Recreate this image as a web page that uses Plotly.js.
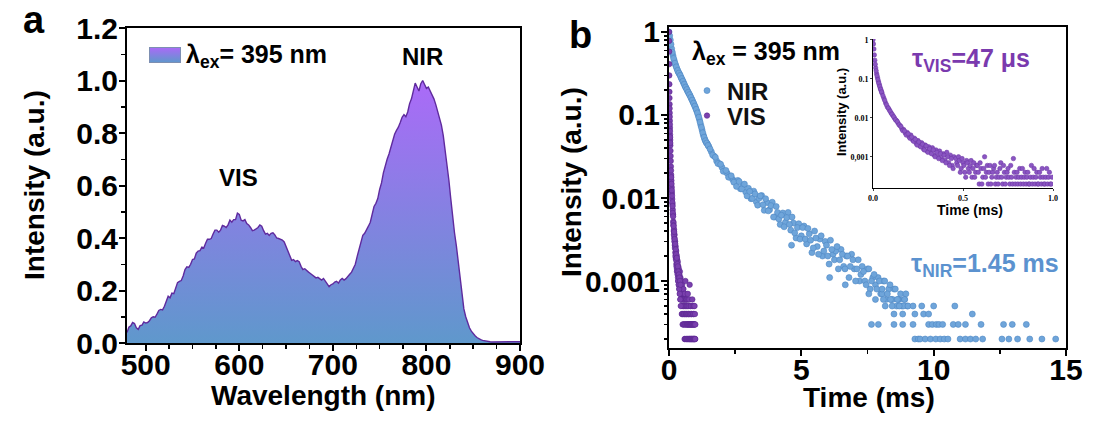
<!DOCTYPE html>
<html><head><meta charset="utf-8">
<script src="https://cdn.plot.ly/plotly-3.0.1.min.js"></script>
<style>html,body{margin:0;padding:0;background:#fff;}#chart{width:1104px;height:427px;}</style>
</head><body><div id="chart"></div>
<script>
// ---------- Panel a: emission spectrum (lambda_ex = 395 nm) ----------
const wavelength = [480,482,484,486,488,490,492,494,496,498,500,502,504,506,508,510,512,514,516,518,520,522,524,526,528,530,532,534,536,538,540,542,544,546,548,550,552,554,556,558,560,562,564,566,568,570,572,574,576,578,580,582,584,586,588,590,592,594,596,598,600,602,604,606,608,610,612,614,616,618,620,622,624,626,628,630,632,634,636,638,640,642,644,646,648,650,652,654,656,658,660,662,664,666,668,670,672,674,676,678,680,682,684,686,688,690,692,694,696,698,700,702,704,706,708,710,712,714,716,718,720,722,724,726,728,730,732,734,736,738,740,742,744,746,748,750,752,754,756,758,760,762,764,766,768,770,772,774,776,778,780,782,784,786,788,790,792,794,796,798,800,802,804,806,808,810,812,814,816,818,820,822,824,826,828,830,832,834,836,838,840,842,844,846,848,850,852,854,856,858,860,862,864,866,868,870,872,874,876,878,880,882,884,886,888,890,892,894,896,898,900];
const emission = [0.040,0.060,0.065,0.078,0.074,0.058,0.052,0.066,0.068,0.080,0.076,0.078,0.085,0.096,0.100,0.098,0.110,0.124,0.128,0.126,0.140,0.162,0.178,0.172,0.190,0.188,0.210,0.230,0.235,0.238,0.255,0.280,0.290,0.288,0.300,0.318,0.320,0.342,0.350,0.352,0.365,0.362,0.380,0.395,0.395,0.398,0.415,0.430,0.430,0.422,0.430,0.448,0.445,0.440,0.450,0.468,0.460,0.470,0.470,0.495,0.490,0.468,0.465,0.470,0.455,0.450,0.440,0.428,0.430,0.436,0.440,0.450,0.445,0.428,0.415,0.418,0.410,0.418,0.420,0.412,0.400,0.398,0.395,0.392,0.385,0.368,0.350,0.338,0.315,0.318,0.310,0.314,0.310,0.292,0.280,0.283,0.275,0.270,0.265,0.258,0.255,0.248,0.250,0.245,0.240,0.246,0.235,0.226,0.215,0.222,0.225,0.232,0.235,0.228,0.240,0.246,0.240,0.245,0.255,0.262,0.270,0.288,0.300,0.330,0.360,0.382,0.410,0.418,0.430,0.445,0.460,0.495,0.520,0.532,0.550,0.585,0.610,0.648,0.680,0.700,0.720,0.748,0.770,0.795,0.810,0.822,0.840,0.860,0.870,0.862,0.880,0.912,0.930,0.955,0.990,0.975,0.960,0.988,1.000,0.985,0.970,0.975,0.960,0.945,0.930,0.908,0.880,0.858,0.830,0.790,0.740,0.690,0.620,0.550,0.480,0.420,0.370,0.310,0.250,0.185,0.130,0.100,0.075,0.058,0.045,0.035,0.028,0.021,0.016,0.013,0.010,0.008,0.007,0.006,0.005,0.004,0.004,0.004,0.005,0.004,0.003,0.004,0.005,0.004,0.004,0.005,0.005,0.004,0.004,0.005,0.005];

// ---------- Panel b: decay curves ----------
const nirT = [0,0.05,0.1,0.15,0.2,0.25,0.3,0.35,0.4,0.45,0.5,0.55,0.6,0.65,0.7,0.75,0.8,0.85,0.9,0.95,1.0,1.05,1.1,1.15,1.2,1.25,1.3,1.35,1.4,1.45,1.5,
  1.6,1.7,1.8,1.9,2.0,2.1,2.2,2.3,2.4,2.5,2.6,2.7,2.8,2.9,3.0,3.1,3.2,3.3,3.4,3.5,3.6,3.7,3.8,3.9,4.0,4.1,4.2,4.3,4.4,4.5,4.6,4.7,4.8,4.9,5.0,
  5.1,5.2,5.3,5.4,5.5,5.6,5.7,5.8,5.9,6.0,6.1,6.2,6.3,6.4,6.5,6.6,6.7,6.8,6.9,7.0,7.1,7.2,7.3,7.4,7.5,7.6,7.7,7.8,7.9,8.0,8.1,8.2,8.3,8.4,8.5,8.6,8.7,8.8,8.9,9.0];
const nirI = [1.0,0.80,0.63,0.52,0.45,0.40,0.36,0.33,0.31,0.285,0.265,0.245,0.225,0.21,0.195,0.182,0.170,0.157,0.145,0.134,0.123,0.112,0.100,0.088,0.076,0.066,0.057,0.051,0.047,0.045,0.042,
  0.036,0.032,0.028,0.026,0.0235,0.021,0.0198,0.018,0.0168,0.0158,0.0163,0.0129,0.0143,0.0118,0.0131,0.0098,0.0121,0.0090,0.0099,0.0107,0.0071,0.0088,0.0072,0.0089,0.0059,0.0067,0.0048,0.0066,0.0051,0.0067,0.0041,0.0050,0.0033,0.0049,0.0035,
  0.0046,0.0028,0.0037,0.0022,0.0040,0.0026,0.0032,0.0020,0.0030,0.0020,0.0031,0.0021,0.0023,0.0014,0.0024,0.0015,0.0020,0.0011,0.0021,0.0014,0.0014,0.0010,0.0015,0.0010,0.0014,0.0008,0.0011,0.0009,0.0011,0.0007,0.0010,0.0006,0.0008,0.0006,0.0008,0.0005,0.0006,0.0005,0.0006,0.0005];
const nir2T = [0.025,0.075,0.125,0.175,0.225,0.275,0.325,0.375,0.425,0.475,0.525,0.575,0.625,0.675,0.725,0.775,0.825,0.875,0.925,0.975,1.025,1.075,1.125,1.175,1.225,1.275,1.325,1.375,1.425,1.475,
  1.55,1.65,1.75,1.85,1.95,2.05,2.15,2.25,2.35,2.45,
  2.55,2.65,2.75,2.85,2.95,3.05,3.15,3.25,3.35,3.45,3.55,3.65,3.75,3.85,3.95,4.05,4.15,4.25,4.35,4.45,4.55,4.65,4.75,4.85,4.95,
  5.05,5.15,5.25,5.35,5.45,5.55,5.65,5.75,5.85,5.95,6.05,6.15,6.25,6.35,6.45,6.55,6.65,6.75,6.85,6.95,
  7.05,7.15,7.25,7.35,7.45,7.55,7.65,7.75,7.85,7.95,8.05,8.15,8.25,8.35,8.45,8.55,8.65,8.75,8.85,8.95,4.63,6.07,6.66];
const nir2I = [0.90,0.71,0.57,0.48,0.42,0.38,0.345,0.32,0.30,0.275,0.255,0.235,0.217,0.203,0.188,0.176,0.163,0.151,0.139,0.128,0.117,0.106,0.094,0.082,0.071,0.061,0.054,0.049,0.046,0.043,
  0.039,0.033,0.031,0.026,0.0255,0.021,0.0215,0.0178,0.0185,0.0155,
  0.0138,0.0158,0.0129,0.0147,0.0106,0.0120,0.0099,0.0112,0.0082,0.0106,0.0083,0.0098,0.0070,0.0081,0.0059,0.0079,0.0056,0.0062,0.0045,0.0058,0.0048,0.0059,0.0038,0.0044,0.0032,
  0.0044,0.0032,0.0043,0.0031,0.0025,0.0033,0.0021,0.0035,0.0023,0.0027,0.0016,0.0024,0.0018,0.0026,0.0018,0.0021,0.0014,0.0020,0.0015,0.0018,
  0.0010,0.0018,0.0012,0.0013,0.0009,0.0014,0.0010,0.0012,0.0008,0.0010,0.0007,0.0010,0.0007,0.0009,0.0006,0.0008,0.0006,0.0007,0.0005,0.0007,0.0027,0.0011,0.0009];
const nirLateT = [7.55,7.65,7.8,7.91,8.05,8.1,8.17,8.37,8.43,8.5,8.5,8.63,8.7,8.83,8.83,8.9,9.03,9.22,9.22,9.29,9.29,9.42,9.49,9.55,9.62,9.68,9.81,9.81,9.88,9.95,10.0,10.08,10.1,10.2,10.25,10.34,10.4,10.54,10.74,10.8,10.93,11.0,11.2,11.2,11.39,11.46,11.59,11.79,11.85,12.58,12.64,12.84,12.97,13.17,13.5,13.63,14.09,14.61];
const nirLateI = [7e-4,3e-4,6e-4,3e-4,8e-4,6e-4,5e-4,6e-4,5e-4,4e-4,3e-4,6e-4,5e-4,4e-4,3e-4,6e-4,5e-4,5e-4,3e-4,4e-4,2e-4,2e-4,2e-4,5e-4,4e-4,2e-4,4e-4,3e-4,2e-4,3e-4,5e-4,2e-4,3e-4,3e-4,2e-4,3e-4,2e-4,2e-4,3e-4,5e-4,3e-4,2e-4,3e-4,2e-4,2e-4,4e-4,2e-4,3e-4,2e-4,2e-4,3e-4,2e-4,3e-4,2e-4,3e-4,2e-4,2e-4,2e-4];

const visT = [0,0.005,0.01,0.015,0.02,0.025,0.03,0.035,0.04,0.045,0.05,0.06,0.07,0.08,0.09,0.10,0.11,0.12,0.13,0.14,0.15,0.16,0.17,0.18,0.19,0.20,0.21,0.22,0.23,0.24,0.25,0.26,0.27,0.28,0.29,0.30,0.31,0.32,0.33,0.34,0.35,0.36,0.37,0.38,0.39,0.40,0.41,0.42,0.43,0.44,0.45,
  0.46,0.465,0.47,0.475,0.48,0.485,0.49,0.495,0.50,0.505,0.51,0.515,0.52,0.525,0.53,0.535,0.54,0.545,0.55,0.555,0.56,0.565,0.57,0.575,0.58,0.585,0.59,0.595,0.60,0.605,0.61,0.615,0.62,0.625,0.63,0.635,0.64,0.645,0.65,0.655,0.66,0.665,0.67,0.675,0.68,0.685,0.69,0.695,0.70,0.705,0.71,0.715,0.72,0.725,0.73,0.735,0.74,0.745,0.75,0.755,0.76,0.765,0.77,0.775,0.78,0.785,0.79,0.795,0.80,0.805,0.81,0.815,0.82,0.825,0.83,0.835,0.84,0.845,0.85,0.855,0.86,0.865,0.87,0.875,0.88,0.885,0.89,0.895,0.90,0.905,0.91,0.915,0.92,0.925,0.93,0.935,0.94,0.945,0.95,0.955,0.96,0.965,0.97,0.975,0.98,0.985,0.99,0.995];
const visI = [1.0,0.58,0.30,0.19,0.135,0.106,0.085,0.070,0.058,0.050,0.043,0.032,0.024,0.019,0.0162,0.0135,0.0115,0.0097,0.0085,0.0072,0.0063,0.0052,0.0050,0.0040,0.0042,0.0033,0.0036,0.0027,0.0030,0.0022,0.0026,0.0019,0.0023,0.0016,0.0020,0.0014,0.0018,0.0013,0.0017,0.0011,0.0015,0.0010,0.0014,0.0009,0.0012,0.0008,0.0013,0.0007,0.0011,0.0006,0.0010,
  9e-4,7e-4,6e-4,10e-4,8e-4,4e-4,5e-4,9e-4,7e-4,6e-4,4e-4,3e-4,8e-4,7e-4,5e-4,4e-4,6e-4,8e-4,3e-4,5e-4,7e-4,3e-4,4e-4,6e-4,6e-4,4e-4,2e-4,7e-4,5e-4,2e-4,3e-4,5e-4,10e-4,3e-4,4e-4,6e-4,2e-4,4e-4,6e-4,2e-4,3e-4,4e-4,5e-4,6e-4,2e-4,3e-4,4e-4,2e-4,3e-4,5e-4,7e-4,3e-4,2e-4,6e-4,4e-4,2e-4,3e-4,4e-4,5e-4,3e-4,2e-4,6e-4,3e-4,2e-4,9e-4,4e-4,2e-4,3e-4,4e-4,2e-4,3e-4,5e-4,2e-4,3e-4,5e-4,2e-4,3e-4,4e-4,2e-4,3e-4,4e-4,2e-4,2e-4,3e-4,6e-4,2e-4,3e-4,5e-4,2e-4,3e-4,4e-4,2e-4,2e-4,4e-4,3e-4,2e-4,5e-4,3e-4,2e-4,2e-4,3e-4,5e-4,2e-4,3e-4,4e-4,2e-4,2e-4,3e-4];
const vis2T = [0.0025,0.0075,0.0125,0.0175,0.0225,0.0275,0.0325,0.0375,0.0425,0.0475,0.055,0.065,0.075,0.085,0.095,0.105,0.115,0.125,0.135,0.145,0.155,0.165,0.175,0.185,0.195,0.205,0.215,0.225,0.235,0.245,0.255,0.265,0.275,0.285,0.295,0.305,0.315,0.325,0.335,0.345,0.355,0.365,0.375,0.385,0.395,0.405,0.415,0.425,0.435,0.445];
const vis2I = [0.78,0.41,0.235,0.16,0.12,0.095,0.077,0.064,0.054,0.046,0.037,0.028,0.0215,0.0178,0.0148,0.0124,0.0106,0.0089,0.0080,0.0066,0.0060,0.0047,0.0046,0.0036,0.0039,0.0030,0.0032,0.0025,0.0028,0.0020,0.0024,0.0018,0.0021,0.0015,0.0019,0.0013,0.0016,0.0012,0.0015,0.0010,0.0013,0.0009,0.0012,0.0008,0.0011,0.0007,0.0010,0.0006,0.0009,0.0005];

// ---------- tick labels ----------
const aXTick0 = 500, aXStep = 100, aYStep = 0.2;
const bYTickVals = [1, 0.1, 0.01, 0.001];
const bYTickText = ['1', '0.1', '0.01', '0.001'];
const insetYTickText = ['1', '0.1', '0.01', '0,001'];
const insetXTickVals = [0, 0.5, 1.0];
const insetXTickText = ['0.0', '0.5', '1.0'];
const logMinor = [2e-4,3e-4,4e-4,5e-4,6e-4,7e-4,8e-4,9e-4,2e-3,3e-3,4e-3,5e-3,6e-3,7e-3,8e-3,9e-3,2e-2,3e-2,4e-2,5e-2,6e-2,7e-2,8e-2,9e-2,0.2,0.3,0.4,0.5,0.6,0.7,0.8,0.9];

// ---------- layout helpers ----------
const W = 1104, H = 427;
const px = v => v / W, py = v => 1 - v / H;
const SANS = 'Liberation Sans, Arial, sans-serif';
const SERIF = 'Liberation Serif, Times New Roman, serif';
const BLUE = '#6fa5da', BLUE_EDGE = '#4f88c4';
const PURPLE = '#7a40ae', PURPLE_EDGE = '#5a2790';

const fontB = (size, color) => ({family: SANS, size: size, weight: 'bold', color: color || '#000'});

const axisBase = () => ({
  showline: true, linecolor: '#000', linewidth: 2, mirror: true,
  ticks: 'outside', ticklen: 6, tickwidth: 2, tickcolor: '#000',
  showgrid: false, zeroline: false, fixedrange: true,
  tickfont: fontB(30)
});

const traces = [
  {x: wavelength, y: emission, type: 'scatter', mode: 'lines', xaxis: 'x', yaxis: 'y',
   line: {color: '#5f2a9e', width: 1.4}, fill: 'tozeroy',
   fillgradient: {type: 'vertical', start: 0, stop: 1.0, colorscale: [[0, '#5f98cc'], [1, '#ab6af8']]},
   showlegend: false, hoverinfo: 'skip'},
  {x: nirT.concat(nir2T, nirLateT), y: nirI.concat(nir2I, nirLateI), type: 'scatter', mode: 'markers', xaxis: 'x2', yaxis: 'y2',
   name: 'NIR', legend: 'legend2',
   marker: {color: BLUE, size: 6, line: {color: BLUE_EDGE, width: 0.6}}},
  {x: visT.concat(vis2T), y: visI.concat(vis2I), type: 'scatter', mode: 'markers', xaxis: 'x2', yaxis: 'y2',
   name: 'VIS', legend: 'legend3',
   marker: {color: PURPLE, size: 5.5, line: {color: PURPLE_EDGE, width: 0.6}}},
  {x: visT.concat(vis2T), y: visI.concat(vis2I), type: 'scatter', mode: 'markers', xaxis: 'x3', yaxis: 'y3',
   showlegend: false,
   marker: {color: '#8a55c2', size: 4.5, line: {color: '#6a34a2', width: 0.5}}}
];

const swatchSvg = "<svg xmlns='http://www.w3.org/2000/svg' width='32' height='16'><defs><linearGradient id='g' x1='0' y1='0' x2='0' y2='1'><stop offset='0' stop-color='#aa6af7'/><stop offset='1' stop-color='#5f98cc'/></linearGradient></defs><rect x='0.5' y='0.5' width='31' height='15' fill='url(#g)' stroke='#7d8fb2' stroke-width='1'/></svg>";

const ann = (text, x, y, size, opts) => Object.assign({
  text: text, x: px(x), y: py(y), xref: 'paper', yref: 'paper', showarrow: false,
  xanchor: 'center', yanchor: 'middle', font: fontB(size)
}, opts || {});

const layout = {
  width: W, height: H, margin: {l: 0, r: 0, t: 0, b: 0},
  paper_bgcolor: '#fff', plot_bgcolor: 'rgba(0,0,0,0)',
  showlegend: true,
  xaxis: Object.assign(axisBase(), {domain: [px(127), px(520)], anchor: 'y', range: [480, 900],
    tickmode: 'linear', tick0: aXTick0, dtick: aXStep, ticklabelstandoff: -12,
    minor: {tickmode: 'linear', tick0: 0, dtick: 25, ticks: 'outside', ticklen: 4, tickwidth: 1.5, tickcolor: '#000'}}),
  yaxis: Object.assign(axisBase(), {domain: [py(343), py(28)], anchor: 'x', range: [0, 1.2],
    tickmode: 'linear', tick0: 0, dtick: aYStep, tickformat: '.1f', ticklabelstandoff: -5,
    minor: {tickmode: 'linear', tick0: 0, dtick: 0.1, ticks: 'outside', ticklen: 4, tickwidth: 1.5, tickcolor: '#000'}}),
  xaxis2: Object.assign(axisBase(), {domain: [px(669), px(1066)], anchor: 'y2', range: [0, 15],
    tickmode: 'linear', tick0: 0, dtick: 5, ticklabelstandoff: -12,
    minor: {tickmode: 'linear', tick0: 0, dtick: 2.5, ticks: 'outside', ticklen: 4, tickwidth: 1.5, tickcolor: '#000'}}),
  yaxis2: Object.assign(axisBase(), {domain: [py(348), py(27)], anchor: 'x2', type: 'log', range: [-3.807, 0.06],
    tickmode: 'array', tickvals: bYTickVals, ticktext: bYTickText, ticklabelstandoff: -5,
    minor: {tickmode: 'array', tickvals: logMinor, ticks: 'outside', ticklen: 3, tickwidth: 1.5, tickcolor: '#000'}}),
  xaxis3: {domain: [px(873), px(1053)], anchor: 'y3', range: [0, 1.0], showline: true, linecolor: '#000', linewidth: 1,
    mirror: false, ticks: 'outside', ticklen: 2, tickwidth: 1, showgrid: false, zeroline: false, fixedrange: true,
    tickmode: 'array', tickvals: insetXTickVals, ticktext: insetXTickText,
    tickfont: {family: SERIF, size: 8, weight: 'bold', color: '#000'}},
  yaxis3: {domain: [py(188), py(39)], anchor: 'x3', type: 'log', range: [-3.8, 0.02], showline: true, linecolor: '#000', linewidth: 1,
    mirror: false, ticks: 'outside', ticklen: 2, tickwidth: 1, showgrid: false, zeroline: false, fixedrange: true,
    tickmode: 'array', tickvals: bYTickVals, ticktext: insetYTickText,
    tickfont: {family: SERIF, size: 8, weight: 'bold', color: '#000'}},
  legend2: {x: px(687), y: py(91), xanchor: 'left', yanchor: 'middle', bgcolor: 'rgba(0,0,0,0)', borderwidth: 0,
    font: fontB(24, '#111'), itemwidth: 30},
  legend3: {x: px(687), y: py(116), xanchor: 'left', yanchor: 'middle', bgcolor: 'rgba(0,0,0,0)', borderwidth: 0,
    font: fontB(24, '#111'), itemwidth: 30},
  images: [{source: 'data:image/svg+xml;utf8,' + encodeURIComponent(swatchSvg), xref: 'paper', yref: 'paper',
    x: px(149), y: py(47), sizex: 32 / W, sizey: 16 / H, xanchor: 'left', yanchor: 'top', sizing: 'stretch', layer: 'above'}],
  annotations: [
    ann('a', 34, 20, 38),
    ann('b', 580, 35, 38),
    ann('Intensity (a.u.)', 34, 185, 28, {textangle: -90}),
    ann('Wavelength (nm)', 323, 395, 28),
    ann('Intensity (a.u.)', 571, 182, 28, {textangle: -90}),
    ann('Time (ms)', 869, 397, 28),
    ann('VIS', 238, 177, 24),
    ann('NIR', 422, 56, 24),
    ann('λ<sub>ex</sub>= 395 nm', 184, 56, 25, {xanchor: 'left'}),
    ann('λ<sub>ex</sub> = 395 nm', 690, 53, 25, {xanchor: 'left'}),
    ann('τ<sub>NIR</sub>=1.45 ms', 985, 265, 25, {font: fontB(25, '#5b92cf')}),
    ann('τ<sub>VIS</sub>=47 μs', 971, 60, 25, {font: fontB(25, '#7a3aae')}),
    ann('Time (ms)', 970, 210, 14),
    ann('Intensity (a.u.)', 841, 112, 13, {textangle: -90})
  ]
};

Plotly.newPlot('chart', traces, layout, {displayModeBar: false, staticPlot: true});
</script></body></html>
